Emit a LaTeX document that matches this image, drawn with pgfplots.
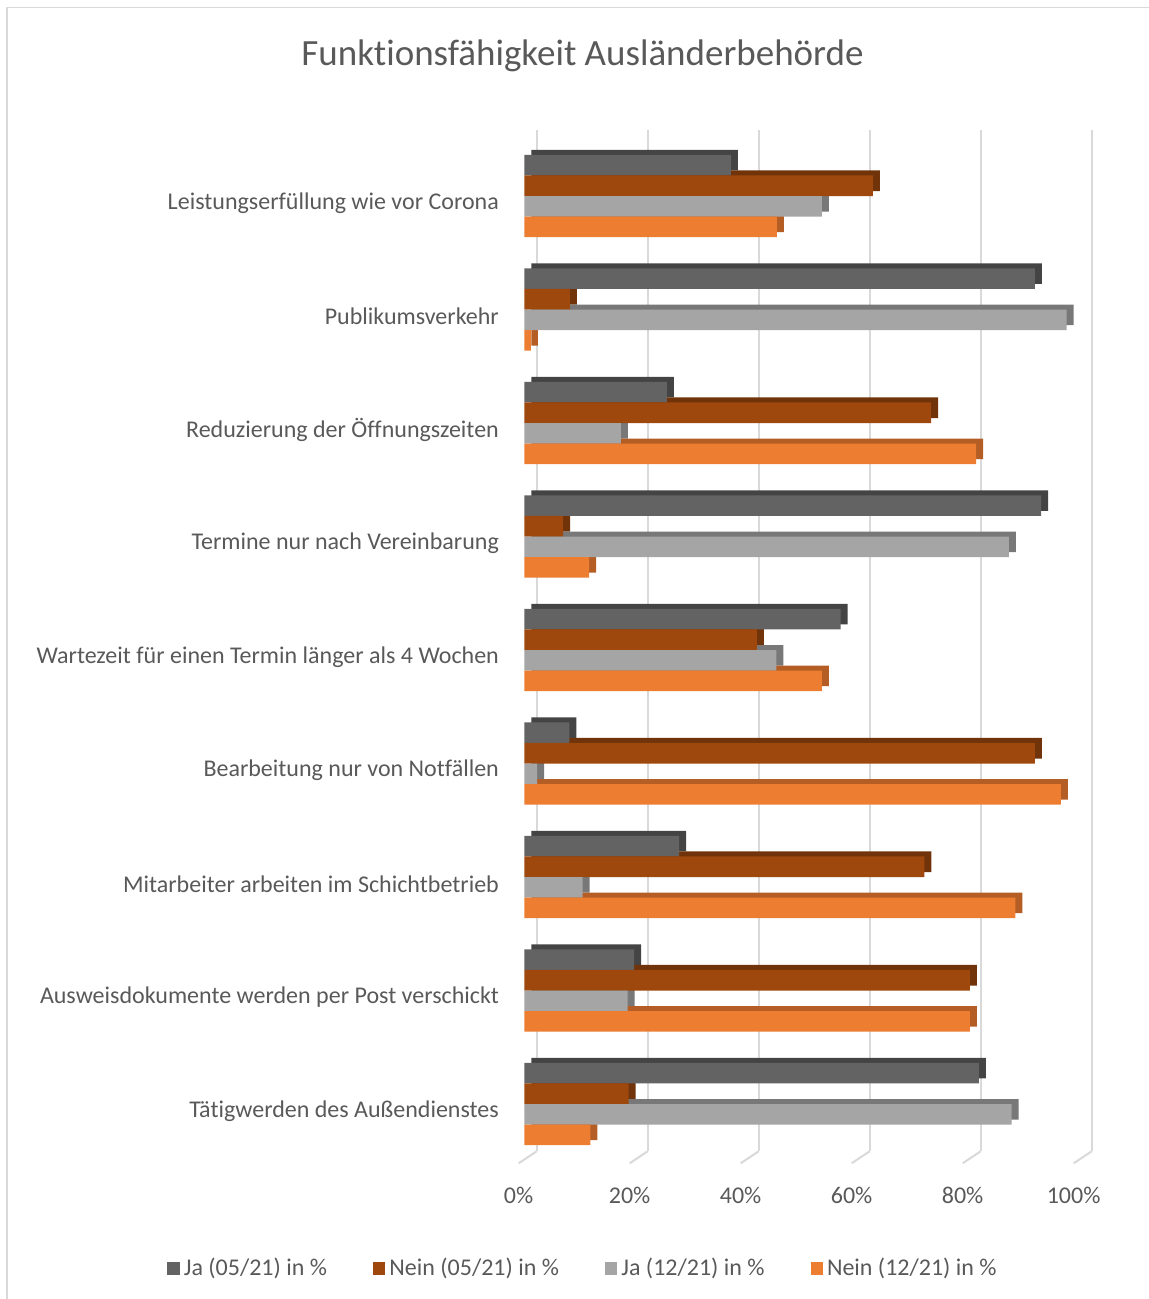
\documentclass[border=0pt]{standalone}
\usepackage{fontspec}
\setmainfont{Carlito}[Ligatures=NoCommon]
\usepackage{pgfplots}
\usepackage{pgfplotstable}
\pgfplotsset{compat=1.18}

\definecolor{jaA}{HTML}{636363}
\definecolor{jaAd}{HTML}{444444}
\definecolor{neinA}{HTML}{9E480E}
\definecolor{neinAd}{HTML}{70330A}
\definecolor{jaB}{HTML}{A5A5A5}
\definecolor{jaBd}{HTML}{787878}
\definecolor{neinB}{HTML}{ED7D31}
\definecolor{neinBd}{HTML}{B45E25}
\definecolor{gridgray}{HTML}{D9D9D9}
\definecolor{txtgray}{HTML}{595959}

\pgfplotstableread{
y ja05 nein05 ja12 nein12
8 37.2 62.8 53.6 45.5
7 92.0 8.2 97.7 1.2
6 25.7 73.3 17.4 81.4
5 93.1 7.0 87.3 11.7
4 57.0 41.9 45.4 53.6
3 8.1 92.0 2.3 96.7
2 27.9 72.1 10.5 88.5
1 19.8 80.3 18.6 80.3
0 81.9 18.8 87.8 11.9
}\data

\pgfplotsset{
  frontbar/.style 2 args={xbar, bar width=10.3pt, draw=none, fill=#1, bar shift=#2,
    legend image code/.code={\fill[fill=#1] (0pt,-3.25pt) rectangle (6.2pt,3.25pt);}},
  backbar/.style 2 args={xbar, bar width=10.3pt, draw=none, fill=#1, bar shift=#2,
    xshift=3.5pt, yshift=2.5pt, forget plot},
}

\begin{document}
\begin{tikzpicture}
\useasboundingbox (0,0) rectangle (574.5pt,649.5pt);
\draw[gridgray, line width=0.7pt] (3.4pt,0) -- (3.4pt,645.6pt) -- (574.5pt,645.6pt);
\node[anchor=base, text=txtgray, font=\fontsize{18.5}{22}\selectfont] at (291.25pt,616.5pt) {Funktionsfähigkeit Ausländerbehörde};
\begin{axis}[
  at={(262.15pt,69.125pt)}, anchor=south west,
  scale only axis, width=277.5pt, height=510.75pt,
  xmin=0, xmax=100, ymin=-0.5, ymax=8.5,
  clip=false,
  axis line style={draw=none},
  major tick length=0pt,
  tick style={draw=none},
  xtick={0,20,40,60,80,100},
  xticklabels={0\%,20\%,40\%,60\%,80\%,100\%},
  ytick={0,1,2,3,4,5,6,7,8},
  yticklabels={Tätigwerden des Außendienstes,
    Ausweisdokumente werden per Post verschickt,
    Mitarbeiter arbeiten im Schichtbetrieb,
    Bearbeitung nur von Notfällen,
    Wartezeit für einen Termin länger als 4 Wochen,
    Termine nur nach Vereinbarung,
    Reduzierung der Öffnungszeiten,
    Publikumsverkehr,
    Leistungserfüllung wie vor Corona},
  xmajorgrids,
  major grid style={draw=gridgray, line width=1pt, xshift=6.2pt, yshift=4.75pt},
  xticklabel style={anchor=center, yshift=-17.1pt, xshift=-2.85pt, text=txtgray, font=\fontsize{12}{14}\selectfont},
  yticklabel style={anchor=east, xshift=-9.2pt, yshift=-3.5pt, text=txtgray, font=\fontsize{12}{14}\selectfont},
  legend columns=4,
  legend style={at={(0.1076,-0.105)}, anchor=center, draw=none, fill=none,
    font=\fontsize{12}{14}\selectfont, text=txtgray,
    /tikz/every even column/.append style={column sep=21pt}},
  legend cell align=left,
]
\addplot[backbar={jaAd}{15.45pt}] table[x=ja05,y=y] {\data};
\addplot[backbar={neinAd}{5.15pt}] table[x=nein05,y=y] {\data};
\addplot[backbar={jaBd}{-5.15pt}] table[x=ja12,y=y] {\data};
\addplot[backbar={neinBd}{-15.45pt}] table[x=nein12,y=y] {\data};
\addplot[frontbar={jaA}{15.45pt}] table[x=ja05,y=y] {\data};
\addlegendentry{Ja (05/21) in \%}
\addplot[frontbar={neinA}{5.15pt}] table[x=nein05,y=y] {\data};
\addlegendentry{Nein (05/21) in \%}
\addplot[frontbar={jaB}{-5.15pt}] table[x=ja12,y=y] {\data};
\addlegendentry{Ja (12/21) in \%}
\addplot[frontbar={neinB}{-15.45pt}] table[x=nein12,y=y] {\data};
\addlegendentry{Nein (12/21) in \%}
\pgfplotsinvokeforeach{0,20,40,60,80,100}{
  \draw[gridgray, line width=1pt] ([xshift=6.2pt,yshift=4.75pt]axis cs:#1,-0.5) -- ([xshift=-2.8pt,yshift=-1.25pt]axis cs:#1,-0.5);
}
\end{axis}
\end{tikzpicture}
\end{document}
